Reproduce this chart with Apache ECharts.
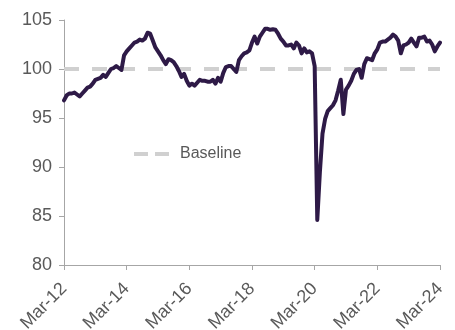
<!DOCTYPE html>
<html>
<head>
<meta charset="utf-8">
<script src="https://cdn.jsdelivr.net/npm/echarts@6/dist/echarts.min.js"></script>
<style>
  html, body { margin: 0; padding: 0; background: #fff; }
  #chart { width: 455px; height: 330px; }
</style>
</head>
<body>
<div id="chart"></div>
<script>
// monthly index values, Mar-12 .. Mar-24
const indexValues = [
  96.8, 97.3, 97.5, 97.5, 97.6, 97.4, 97.2, 97.5, 97.8, 98.1, 98.2, 98.5,
  98.9, 99.0, 99.1, 99.4, 99.2, 99.6, 100.0, 100.1, 100.3, 100.1, 99.9, 101.4,
  101.8, 102.1, 102.4, 102.7, 102.8, 103.0, 102.9, 103.1, 103.7, 103.6, 102.9, 102.2,
  101.8, 101.4, 100.9, 100.5, 101.0, 100.9, 100.7, 100.3, 99.8, 99.2, 99.5, 98.8,
  98.3, 98.5, 98.3, 98.6, 98.9, 98.8, 98.8, 98.7, 98.7, 98.9, 98.5, 99.1,
  98.7, 99.6, 100.2, 100.3, 100.3, 100.0, 99.7, 100.9, 101.3, 101.6, 101.7, 101.9,
  102.7, 103.3, 102.6, 103.3, 103.7, 104.1, 104.1, 104.0, 104.05, 104.0, 103.6, 103.1,
  102.8, 102.4, 102.4, 102.5, 102.1, 102.7, 102.4, 101.6, 102.1, 101.7, 101.8, 101.6,
  100.3, 84.6, 89.5, 93.4, 94.9, 95.7, 96.0, 96.3, 96.8, 97.8, 98.9, 95.4,
  97.9, 98.3, 98.8, 99.5, 99.9, 100.0, 99.1, 100.5, 101.1, 101.0, 100.9, 101.6,
  102.0, 102.7, 102.8, 102.8, 103.0, 103.2, 103.5, 103.3, 102.9, 101.6, 102.4, 102.5,
  102.7, 103.1, 102.7, 102.3, 103.2, 103.2, 103.3, 102.8, 102.9, 102.5, 101.8, 102.3,
  102.7
];
const baselineValue = 100;
const yTicks = [80, 85, 90, 95, 100, 105];

const monthNames = ['Jan', 'Feb', 'Mar', 'Apr', 'May', 'Jun', 'Jul', 'Aug', 'Sep', 'Oct', 'Nov', 'Dec'];
const months = [];
for (let i = 0; i < indexValues.length; i++) {
  const m = (2 + i) % 12;
  const y = 12 + Math.floor((2 + i) / 12);
  months.push(monthNames[m] + '-' + String(y).padStart(2, '0'));
}
const baseline = months.map(() => baselineValue);

const chart = echarts.init(document.getElementById('chart'));
const axisColor = '#a6a6a6';
const textColor = '#595959';
const dashGrey = '#d0d0d0';
const font = 'Liberation Sans, Arial, sans-serif';

chart.setOption({
  animation: false,
  grid: { left: 64, right: 15, top: 20, bottom: 65, outerBoundsMode: 'none', containLabel: false },
  legend: {
    data: [{
      name: 'Baseline',
      icon: 'path://M0,0h14v4h-14z M21,0h14v4h-14z'
    }],
    left: 134,
    top: 146,
    padding: 0,
    itemWidth: 35,
    itemHeight: 4,
    itemStyle: { color: dashGrey },
    textStyle: { color: textColor, fontSize: 16, fontFamily: font, padding: [0, 0, 0, 6] }
  },
  xAxis: {
    type: 'category',
    data: months,
    boundaryGap: false,
    axisLine: { lineStyle: { color: axisColor, width: 1 } },
    axisTick: { interval: 23, length: 5, lineStyle: { color: axisColor } },
    axisLabel: {
      interval: 23,
      rotate: 45,
      color: textColor,
      fontSize: 18,
      fontFamily: font,
      margin: 21
    },
    splitLine: { show: false }
  },
  yAxis: {
    type: 'value',
    min: yTicks[0],
    max: yTicks[yTicks.length - 1],
    interval: 5,
    axisLine: { show: true, lineStyle: { color: axisColor, width: 1 } },
    axisTick: { show: true, length: 5, lineStyle: { color: axisColor } },
    axisLabel: { color: textColor, fontSize: 18, fontFamily: font, margin: 12 },
    splitLine: { show: false }
  },
  series: [
    {
      name: 'Baseline',
      type: 'line',
      data: baseline,
      symbol: 'none',
      z: 1,
      itemStyle: { color: dashGrey },
      lineStyle: { color: dashGrey, width: 4, type: [15, 13] }
    },
    {
      name: 'Index',
      type: 'line',
      data: indexValues,
      symbol: 'none',
      z: 2,
      lineStyle: { color: '#2e1a47', width: 4, join: 'round', cap: 'round' }
    }
  ]
});
</script>
</body>
</html>
